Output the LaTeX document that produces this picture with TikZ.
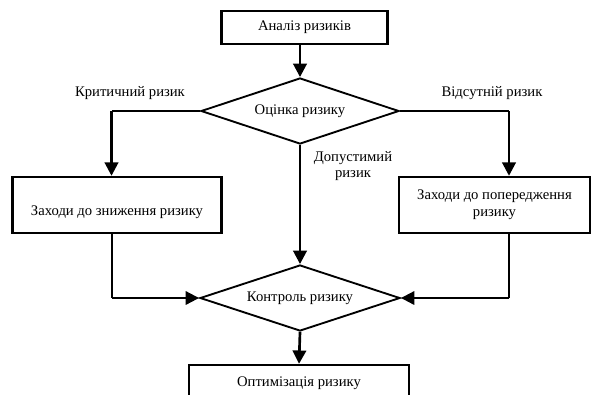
\documentclass[tikz,border=0pt]{standalone}
\usepackage{fontspec}
\setmainfont{Liberation Serif}
\usetikzlibrary{arrows.meta,shapes.geometric}
\begin{document}
\begin{tikzpicture}[x=0.75pt,y=-0.75pt,
  font=\fontsize{11pt}{13pt}\selectfont,
  box/.style={draw,line width=1.8pt,inner sep=2pt,align=center},
  dia/.style={draw,diamond,line width=1.4pt,inner sep=0pt,aspect=3},
  arr/.style={line width=2pt,-{Triangle[length=10pt,width=10pt]}},
  thinline/.style={line width=1.3pt},
  midline/.style={line width=1.5pt},
  lbl/.style={inner sep=0pt,align=center}]
\clip (0,0) rectangle (592,394);
\fill[white] (0,0) rectangle (592,394);
% nodes
\node[box,minimum width=166*0.75pt,minimum height=33*0.75pt] (an) at (304.5,27.5) {Аналіз ризиків};
\node[dia,minimum width=198*0.75pt,minimum height=66*0.75pt] (oc) at (300,111) {Оцінка ризику};
\node[box,minimum width=209*0.75pt,minimum height=56*0.75pt,text height=17pt,text depth=2pt] (zl) at (117,205) {Заходи до зниження ризику};
\node[box,minimum width=191*0.75pt,minimum height=56*0.75pt] (zr) at (494.5,205) {Заходи до попередження\\ризику};
\node[dia,minimum width=200*0.75pt,minimum height=66*0.75pt] (ko) at (300,298) {Контроль ризику};
\node[box,minimum width=220*0.75pt,minimum height=36*0.75pt] (op) at (299,383) {Оптимізація ризику};
% labels
\node[lbl] (lk) at (130,93) {Критичний ризик};
\node[lbl] (lv) at (492,93) {Відсутній ризик};
\node[lbl] (ld) at (353,166.5) {Допустимий\\[-1pt]ризик};
% helper coordinates
\coordinate (lx) at (111.5,0);
\coordinate (rx) at (509,0);
% connectors
\draw[arr] (oc.north |- an.south) -- (oc.north);
\draw[thinline] (oc.west) -- (lx |- oc.west);
\draw[arr] (lx |- oc.west) -- (lx |- zl.north);
\draw[thinline] (oc.east) -- (rx |- oc.east);
\draw[arr] (rx |- oc.east) -- (rx |- zr.north);
\draw[arr] (oc.south) -- (ko.north);
\draw[midline] (lx |- zl.south) -- (lx |- ko.west);
\draw[arr,line width=1.5pt] (lx |- ko.west) -- (ko.west);
\draw[midline] (rx |- zr.south) -- (rx |- ko.east);
\draw[arr,line width=1.5pt] (rx |- ko.east) -- (ko.east);
\draw[arr] (ko.south) -- (op.north);
\end{tikzpicture}
\end{document}
